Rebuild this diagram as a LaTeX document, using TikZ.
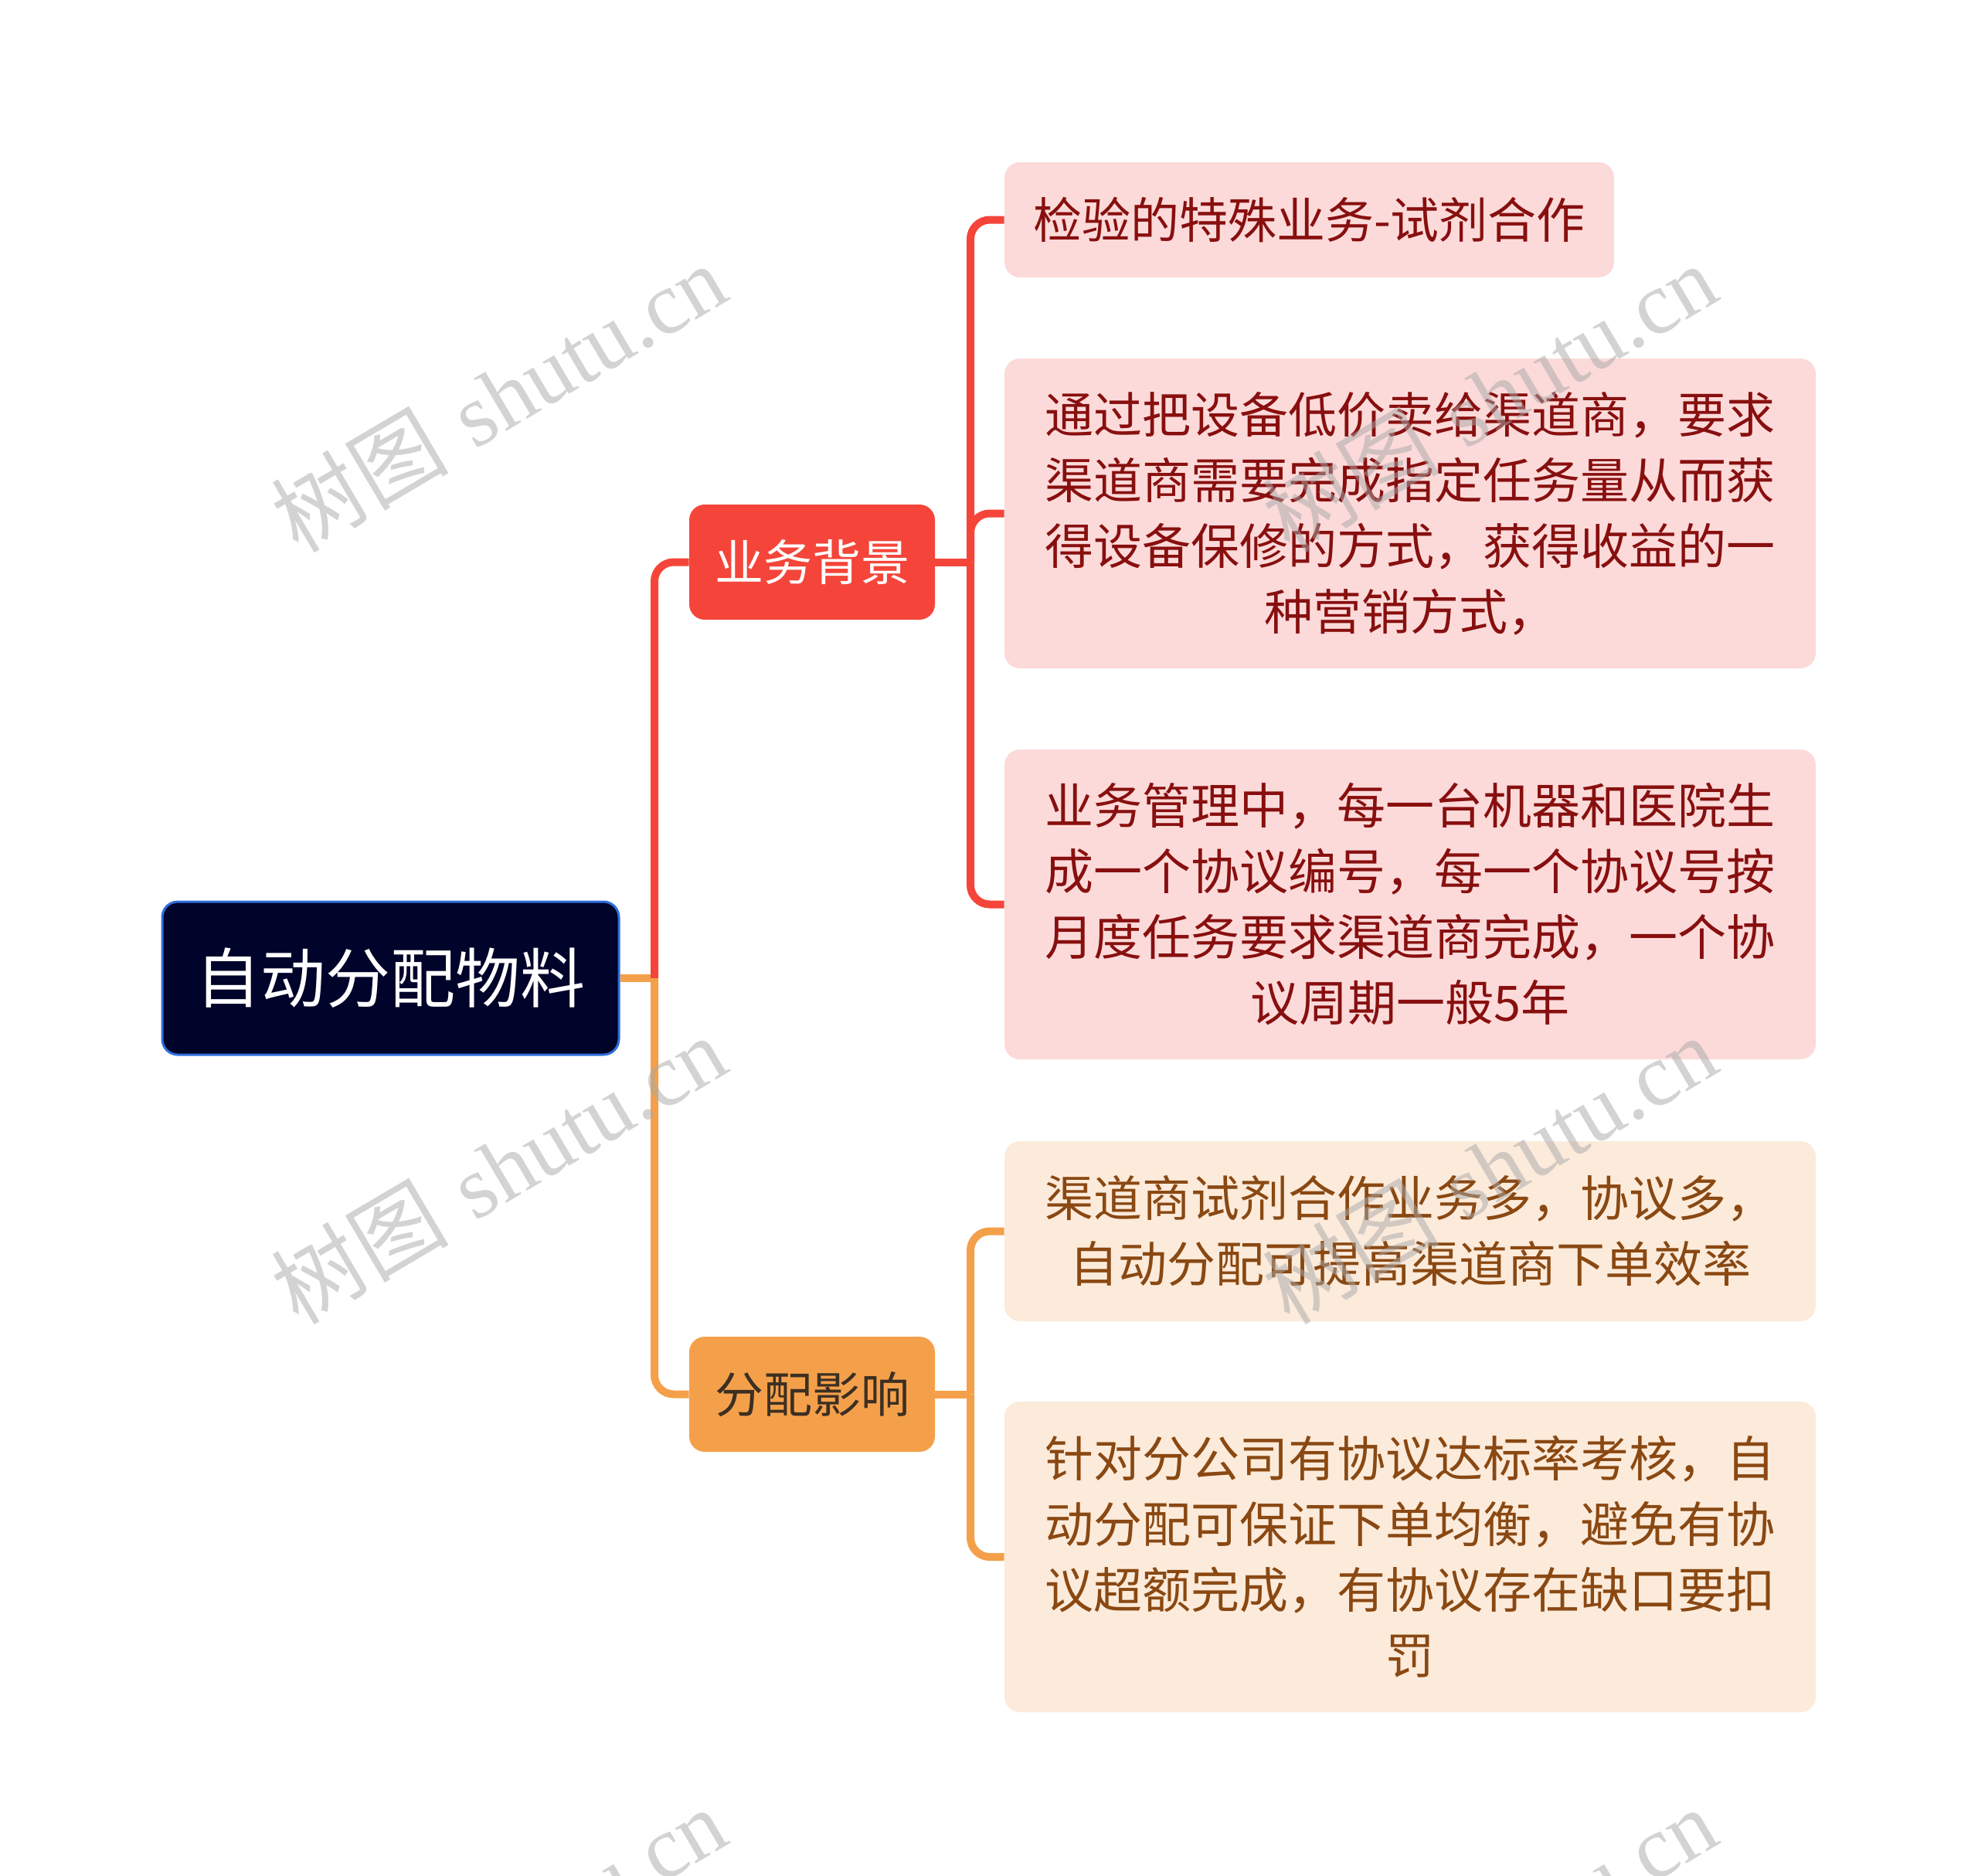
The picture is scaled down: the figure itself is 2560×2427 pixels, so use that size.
\documentclass[tikz,border=0pt]{standalone}
\usepackage{fontspec}
\newfontfamily\cjk{Noto Sans CJK SC}
\newfontfamily\wmserif{Liberation Serif}
\definecolor{rootfill}{HTML}{00032A}
\definecolor{rootborder}{HTML}{2E6EDB}
\definecolor{redc}{HTML}{F5453A}
\definecolor{orangec}{HTML}{F4A04B}
\definecolor{pinkfill}{HTML}{FCDADA}
\definecolor{pinktext}{HTML}{880F0F}
\definecolor{peachfill}{HTML}{FCEBDB}
\definecolor{peachtext}{HTML}{8A4812}
\definecolor{orangetext}{HTML}{3C2F22}
\definecolor{wmgray}{HTML}{A8A8A8}
\begin{document}
\begin{tikzpicture}[x=0.5pt,y=-0.5pt,
  basebox/.style={rectangle, rounded corners=10pt, inner sep=0pt, align=center, font=\cjk\fontsize{31.5}{42.5}\selectfont},
  rootbox/.style={basebox, fill=rootfill, draw=rootborder, line width=1.5pt, rounded corners=10pt, text=white, font=\cjk\fontsize{42}{50}\selectfont, minimum width=295.5pt, minimum height=99pt},
  redbox/.style={basebox, fill=redc, text=white, minimum width=159pt, minimum height=74.5pt},
  orangebox/.style={basebox, fill=orangec, text=orangetext, minimum width=159pt, minimum height=74.5pt},
  pinkbox/.style={basebox, fill=pinkfill, text=pinktext},
  peachbox/.style={basebox, fill=peachfill, text=peachtext},
  rline/.style={draw=redc, line width=5pt, rounded corners=12.5pt},
  oline/.style={draw=orangec, line width=5pt, rounded corners=12.5pt},
  wm/.style={text=wmgray, opacity=0.5, rotate=30.6, inner sep=0pt, font=\fontsize{57.5}{66}\selectfont}
]
\useasboundingbox (0,0) rectangle (2560,2427);
\fill[white] (0,0) rectangle (2560,2427);

% nodes
\node[rootbox] (root) at (505.5,1266) {自动分配物料};
\node[redbox] (bei) at (1051,727.5) {业务背景};
\node[orangebox] (fen) at (1051,1804.5) {分配影响};

\node[pinkbox, minimum width=394.5pt, minimum height=74.5pt] (b1) at (1694.5,284.5) {检验的特殊业务-试剂合作};
\node[pinkbox, minimum width=525pt, minimum height=200.5pt] (b2) at (1825,664.5) {通过把设备低价卖给渠道商，要求\\渠道商需要完成指定任务量从而获\\得设备保修的方式，获得收益的一\\种营销方式，};
\node[pinkbox, minimum width=525pt, minimum height=200.5pt] (b3) at (1825,1170.5) {业务管理中，每一台机器和医院生\\成一个协议编号，每一个协议号按\\月度任务要求渠道商完成，一个协\\议周期一般5年};
\node[peachbox, minimum width=525pt, minimum height=116.5pt] (b4) at (1825,1593.5) {渠道商试剂合作业务多，协议多，\\自动分配可提高渠道商下单效率};
\node[peachbox, minimum width=525pt, minimum height=201pt] (b5) at (1825,2015) {针对分公司有协议达标率考核，自\\动分配可保证下单均衡，避免有协\\议超额完成，有协议存在缺口要扣\\罚};

% junctions
\coordinate (j1) at (847,1266);
\coordinate (j2) at (1256,727.5);
\coordinate (j3) at (1256,1804.5);

% connectors
\draw[oline] (root.east) -- (j1);
\draw[rline] (j1) |- (bei.west);
\draw[oline] (j1) |- (fen.west);
\draw[rline] (bei.east) -- (j2);
\draw[rline] (j2) |- (b1.west);
\draw[rline] (j2) |- (b2.west);
\draw[rline] (j2) |- (b3.west);
\draw[oline] (fen.east) -- (j3);
\draw[oline] (j3) |- (b4.west);
\draw[oline] (j3) |- (b5.west);

% watermarks
\foreach \wx/\wy [count=\i] in {645/514, 645/1513, 645/2512, 1927/514, 1927/1513, 1927/2512}{
  \node[wm] (wm\i) at (\wx,\wy) {{\cjk 树图} {\wmserif shutu.cn}};
}
\end{tikzpicture}
\end{document}
